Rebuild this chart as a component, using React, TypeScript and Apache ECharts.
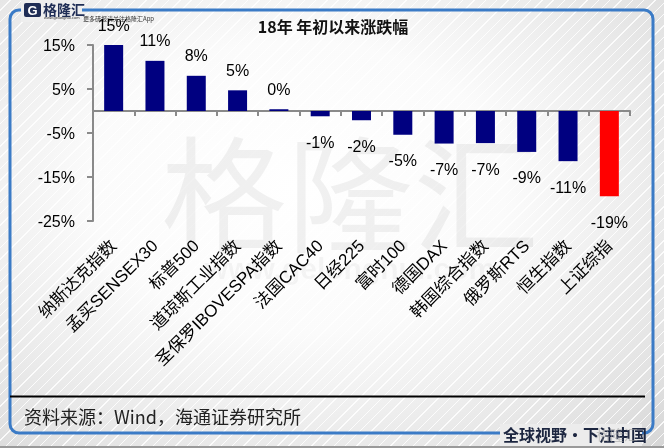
import React, { useEffect, useRef } from "react";
import * as echarts from "echarts";

const categories = [
  "纳斯达克指数",
  "孟买SENSEX30",
  "标普500",
  "道琼斯工业指数",
  "圣保罗IBOVESPA指数",
  "法国CAC40",
  "日经225",
  "富时100",
  "德国DAX",
  "韩国综合指数",
  "俄罗斯RTS",
  "恒生指数",
  "上证综指",
];
const changes = [15.3, 11.4, 8.0, 4.7, 0.4, -1.2, -2.1, -5.4, -7.4, -7.3, -9.3, -11.4, -19.4];
const highlight = "上证综指";
const yMin = -25;
const yMax = 15;
const yStep = 10;
const titleText = "18年 年初以来涨跌幅";
const sourceText = "资料来源：Wind，海通证券研究所";
const sloganText = "全球视野·下注中国";
const brandText = "格隆汇";
const siteText = "www.gelonghui.com";
const promoText = "更多研报请关注格隆汇App";

const SANS = "'Liberation Sans', Arial, 'Noto Sans CJK SC', sans-serif";
const CJK = "'Noto Sans CJK SC', 'Liberation Sans', sans-serif";

export default function App() {
  const ref = useRef<HTMLDivElement>(null);
  useEffect(() => {
    if (!ref.current) return;
    const chart = echarts.init(ref.current, null, { renderer: "svg" });
    const data = changes.map((v, i) => ({
      value: v,
      itemStyle: { color: categories[i] === highlight ? "#ff0000" : "#000080" },
      label: {
        position: v >= 0 ? "top" : "bottom",
        distance: v >= 0 ? 12 : 18,
      },
    }));
    chart.setOption({
      animation: false,
      backgroundColor: "transparent",
      grid: {
        left: 93,
        right: 34,
        top: 45,
        bottom: 227,
        containLabel: false,
        outerBoundsMode: "none",
      },
      xAxis: {
        type: "category",
        data: categories,
        axisLine: { onZero: true, lineStyle: { color: "#8a8a8a", width: 2 } },
        axisTick: { show: true, length: 5, lineStyle: { color: "#8a8a8a", width: 2 } },
        axisLabel: {
          interval: 0,
          rotate: 45,
          margin: 22,
          fontSize: 17,
          color: "#000",
          fontFamily: SANS,
          hideOverlap: false,
        },
        splitLine: { show: false },
      },
      yAxis: {
        type: "value",
        min: yMin,
        max: yMax,
        interval: yStep,
        axisLine: { show: true, lineStyle: { color: "#8a8a8a", width: 2 } },
        axisTick: { show: true, length: 6, lineStyle: { color: "#8a8a8a", width: 2 } },
        axisLabel: {
          formatter: "{value}%",
          fontSize: 16,
          color: "#000",
          margin: 18,
          fontFamily: SANS,
        },
        splitLine: { show: false },
      },
      series: [
        {
          type: "bar",
          data,
          barWidth: 19,
          z: 3,
          label: {
            show: true,
            fontSize: 16,
            color: "#000",
            fontFamily: SANS,
            formatter: (p: any) => Math.round(p.value) + "%",
          },
        },
      ],
      graphic: [
        // watermark
        {
          type: "text",
          z: -10,
          x: 350,
          y: 188,
          silent: true,
          style: {
            text: brandText,
            fontSize: 126,
            fontFamily: CJK,
            fill: "rgba(0,0,0,0.055)",
            align: "center",
            verticalAlign: "middle",
          },
        },
        {
          type: "text",
          z: -10,
          x: 350,
          y: 268,
          silent: true,
          style: {
            text: siteText,
            fontSize: 30,
            fontWeight: "bold",
            fontFamily: SANS,
            fill: "rgba(0,0,0,0.04)",
            align: "center",
            verticalAlign: "middle",
          },
        },
        // blue frame
        {
          type: "rect",
          z: -5,
          silent: true,
          shape: { x: 10, y: 10, width: 643, height: 423, r: 9 },
          style: { fill: "none", stroke: "#3b7bc6", lineWidth: 3 },
        },
        // logo cover
        {
          type: "rect",
          z: 1,
          silent: true,
          shape: { x: 21, y: 0, width: 61, height: 22 },
          style: { fill: "#eeeeee" },
        },
        {
          type: "rect",
          z: 2,
          silent: true,
          shape: { x: 24, y: 3, width: 17, height: 14, r: 2 },
          style: { fill: "#1f2d55" },
        },
        {
          type: "text",
          z: 3,
          x: 32.5,
          y: 10.5,
          silent: true,
          style: {
            text: "G",
            fontSize: 13,
            fontWeight: "bold",
            fontFamily: SANS,
            fill: "#ffffff",
            align: "center",
            verticalAlign: "middle",
          },
        },
        {
          type: "text",
          z: 3,
          x: 43,
          y: 9,
          silent: true,
          style: {
            text: brandText,
            fontSize: 14,
            fontWeight: "bold",
            fontFamily: CJK,
            fill: "#1f2d55",
            verticalAlign: "middle",
          },
        },
        {
          type: "text",
          z: 3,
          x: 44,
          y: 17.5,
          silent: true,
          style: {
            text: siteText,
            fontSize: 4,
            fontFamily: SANS,
            fill: "#333",
            verticalAlign: "middle",
          },
        },
        {
          type: "text",
          z: 3,
          x: 83,
          y: 18,
          silent: true,
          style: {
            text: promoText,
            fontSize: 6,
            fontFamily: CJK,
            fill: "#333",
            verticalAlign: "middle",
          },
        },
        // title
        {
          type: "text",
          z: 3,
          x: 333,
          y: 26,
          silent: true,
          style: {
            text: titleText,
            fontSize: 16,
            fontWeight: "bold",
            fontFamily: CJK,
            fill: "#111",
            align: "center",
            verticalAlign: "middle",
          },
        },
        // footer line
        {
          type: "line",
          z: 3,
          silent: true,
          shape: { x1: 10, y1: 396.5, x2: 645, y2: 396.5 },
          style: { stroke: "#000", lineWidth: 2 },
        },
        {
          type: "text",
          z: 3,
          x: 24,
          y: 416,
          silent: true,
          style: {
            text: sourceText,
            fontSize: 18,
            fontFamily: CJK,
            fill: "#222",
            verticalAlign: "middle",
          },
        },
        // slogan
        {
          type: "rect",
          z: 1,
          silent: true,
          shape: { x: 500, y: 424, width: 142, height: 22 },
          style: { fill: "#ececec" },
        },
        {
          type: "text",
          z: 3,
          x: 503,
          y: 434,
          silent: true,
          style: {
            text: sloganText,
            fontSize: 16,
            fontWeight: "bold",
            fontFamily: CJK,
            fill: "#1c2640",
            verticalAlign: "middle",
          },
        },
        {
          type: "text",
          z: 4,
          x: 596,
          y: 434,
          silent: true,
          style: {
            text: brandText,
            fontSize: 14,
            fontFamily: CJK,
            fill: "rgba(160,160,160,0.55)",
            verticalAlign: "middle",
          },
        },
      ],
    });
    return () => chart.dispose();
  }, []);
  return (
    <div
      style={{
        position: "fixed",
        left: 0,
        top: 0,
        width: 664,
        height: 448,
        overflow: "hidden",
        boxSizing: "border-box",
        borderBottom: "2px solid #9a9a9a",
        background:
          "repeating-linear-gradient(135deg, rgba(255,255,255,0) 0px, rgba(255,255,255,0) 7px, rgba(255,255,255,0.85) 7px, rgba(255,255,255,0.85) 8px), radial-gradient(ellipse at 45% 42%, #ffffff 0%, #fbfbfb 40%, #e2e2e2 85%, #d6d6d6 100%)",
      }}
    >
      <div ref={ref} style={{ width: 664, height: 448 }} />
    </div>
  );
}
